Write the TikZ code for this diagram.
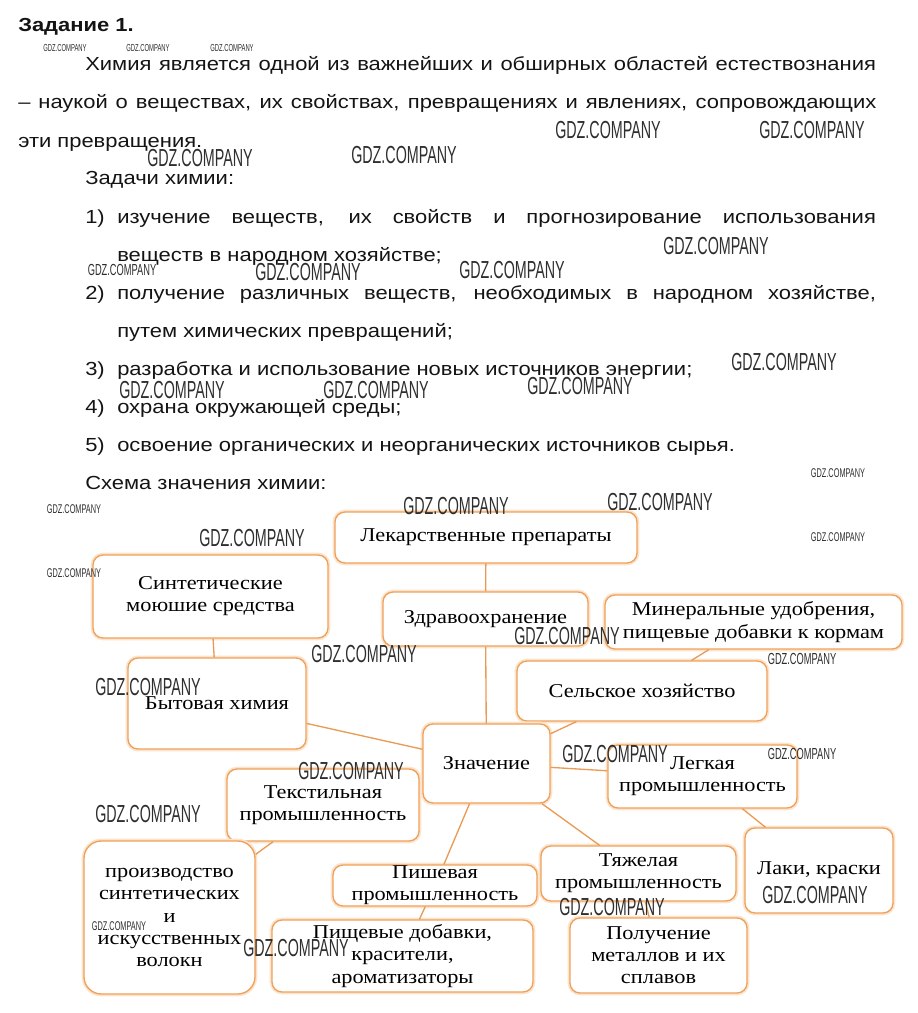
\documentclass[tikz,border=0pt]{standalone}
\usepackage{fontspec}
\usepackage{graphicx}
\setmainfont{Liberation Serif}[FakeStretch=1.14]
\newfontfamily\txtfont{Liberation Sans}[FakeStretch=1.16]
\newfontfamily\wmfont{Liberation Sans}[FakeStretch=0.58]
\usetikzlibrary{positioning}
\definecolor{boxOrange}{HTML}{EFA05A}
\definecolor{boxGlow}{HTML}{FBE3CC}
\definecolor{lineOrange}{HTML}{E99B55}
\definecolor{txtGrey}{HTML}{141414}
\definecolor{wmGrey}{HTML}{2E2E2E}
\newcommand\diagfont{\fontsize{14.7}{16.6}\selectfont}
\newcommand\headfont{\txtfont\fontsize{14.2}{16}\selectfont}
\tikzset{
  schemebox/.style  = {draw=boxOrange, line width=1pt, rounded corners=7.5pt,
                       fill=white, align=center, font=\diagfont, inner sep=1pt,
                       preaction={draw=boxGlow, line width=3.5pt}},
  bx/.style 2 args  = {minimum width=#1*0.75pt, minimum height=#2*0.75pt},
  link/.style       = {lineOrange, line width=1pt},
  para/.style       = {anchor=base west, inner sep=0pt, font=\headfont, txtGrey},
  wm/.style         = {inner sep=0pt, wmGrey, font=\wmfont\fontsize{#1}{#1}\selectfont},
}

\begin{document}
\begin{tikzpicture}[x=0.75pt, y=-0.75pt]
  \useasboundingbox (0,0) rectangle (917,1013);

  % task text
  \node[para, font=\txtfont\bfseries\fontsize{14.2}{16}\selectfont] (title) at (18,32) {Задание 1.};
  \node[para] (l1) at (85,71)
    {\makebox[593pt][s]{Химия является одной из важнейших и обширных областей естествознания}};
  \node[para] (l2) at (18,109)
    {\makebox[643.5pt][s]{– наукой о веществах, их свойствах, превращениях и явлениях, сопровождающих}};
  \node[para] (l3) at (18,147) {эти превращения.};
  \node[para] (l4) at (85,185) {Задачи химии:};
  \node[para] (n1) at (85,223) {1)};
  \node[para] (l5) at (117,223)
    {\makebox[569pt][s]{изучение веществ, их свойств и прогнозирование использования}};
  \node[para] (l6) at (117,261) {веществ в народном хозяйстве;};
  \node[para] (n2) at (85,299) {2)};
  \node[para] (l7) at (117,299)
    {\makebox[569pt][s]{получение различных веществ, необходимых в народном хозяйстве,}};
  \node[para] (l8) at (117,337) {путем химических превращений;};
  \node[para] (n3) at (85,375) {3)};
  \node[para] (l9) at (117,375) {разработка и использование новых источников энергии;};
  \node[para] (n4) at (85,413) {4)};
  \node[para] (l10) at (117,413) {охрана окружающей среды;};
  \node[para] (n5) at (85,451) {5)};
  \node[para] (l11) at (117,451) {освоение органических и неорганических источников сырья.};
  \node[para] (l12) at (85,489) {Схема значения химии:};

  % scheme
  \node[schemebox, bx={302}{51}] (lek) at (486,537.5) {Лекарственные препараты};
  \node[schemebox, bx={205}{54}] (zdr) at (485.5,619) {Здравоохранение};
  \node[schemebox, bx={235}{83}] (sint) at (210.5,596.5) {Синтетические\\моюшие средства};
  \node[schemebox, bx={178}{91}] (byt) at (217,703.5) {Бытовая химия};
  \node[schemebox, bx={297}{54}] (mindob) at (753.5,622) {Минеральные удобрения,\\пищевые добавки к кормам};
  \node[schemebox, bx={250}{60}] (sel) at (642,691) {Сельское хозяйство};
  \node[schemebox, bx={127}{79}] (znach) at (486.5,763.5) {Значение};
  \node[schemebox, bx={189}{63}] (legk) at (702.5,776.5) {Легкая\\промышленность};
  \node[schemebox, bx={192}{72}] (tekst) at (323,805) {Текстильная\\промышленность};
  \node[schemebox, bx={171}{153}, rounded corners=13pt] (volokno) at (169.5,917.5)
    {производство\\синтетических\\и\\искусственных\\волокн};
  \node[schemebox, bx={204}{41}, inner sep=0pt] (pishch) at (435,885.5) {Пишевая\\промышленность};
  \node[schemebox, bx={261}{72}] (dobavki) at (402.5,956) {Пищевые добавки,\\красители,\\ароматизаторы};
  \node[schemebox, bx={195}{55}] (tyazh) at (638.5,873.5) {Тяжелая\\промышленность};
  \node[schemebox, bx={177}{75}] (metall) at (658.5,955.5) {Получение\\металлов и их\\сплавов};
  \node[schemebox, bx={148}{85}] (laki) at (819,870.5) {Лаки, краски};

  \draw[link] (lek) -- (zdr);
  \draw[link] (zdr) -- (znach);
  \draw[link] (sint) -- (byt);
  \draw[link] (byt) -- (znach);
  \draw[link] (mindob) -- (sel);
  \draw[link] (sel) -- (znach);
  \draw[link] (znach) -- (legk);
  \draw[link] (legk) -- (laki);
  \draw[link] (znach) -- (pishch);
  \draw[link] (znach) -- (tyazh);
  \draw[link] (tekst) -- (volokno);
  \draw[link] (pishch) -- (dobavki);
  \draw[link] (tyazh) -- (metall);

  % watermarks
  \foreach \wx/\wy in {608/130, 812/130, 200/158, 404/155, 716/246, 308/272,
                      512/270, 784/362, 172/390, 376/390, 580/386, 456/506,
                      660/502, 252/538, 567/636, 364/654, 148/687, 615/754,
                      351/771, 148/814, 612/907, 815/895, 296/948}
    \node[wm=18.5] at (\wx,\wy) {GDZ.COMPANY};
  \foreach \wx/\wy in {65/48, 148/48, 232/48}
    \node[wm=7.6] at (\wx,\wy) {GDZ.COMPANY};
  \foreach \wx/\wy in {838/473, 74/509, 838/537, 74/573, 119/926}
    \node[wm=9.5] at (\wx,\wy) {GDZ.COMPANY};
  \foreach \wx/\wy in {122/270, 802/659, 802/754}
    \node[wm=12] at (\wx,\wy) {GDZ.COMPANY};
\end{tikzpicture}
\end{document}
